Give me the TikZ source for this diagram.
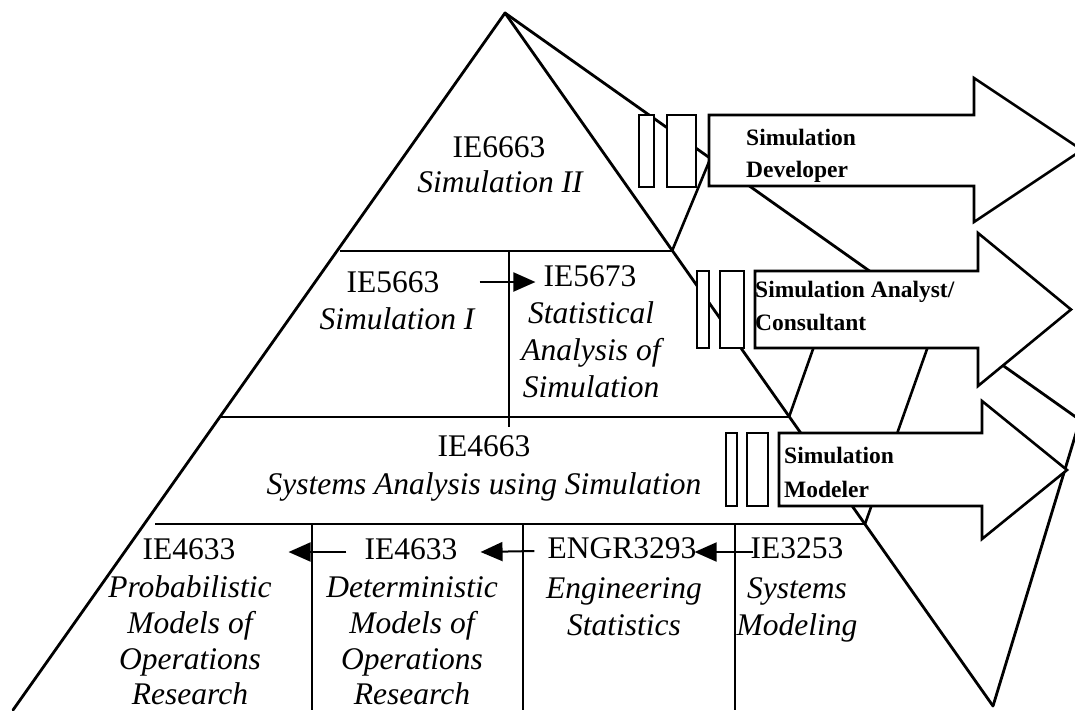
\documentclass[tikz,border=0pt]{standalone}
\usepackage{fontspec}
\setmainfont{Liberation Serif}
\usetikzlibrary{arrows.meta}
\begin{document}
\begin{tikzpicture}[x=1pt,y=-1pt,
  edge/.style={line width=2.8pt, line cap=round, line join=round},
  layer/.style={line width=2.2pt},
  sideline/.style={line width=2.6pt},
  divider/.style={line width=1.8pt},
  bar/.style={draw, fill=white, line width=2.4pt},
  bigarrow/.style={draw, fill=white, line width=2.6pt, line join=miter},
  code/.style={anchor=base, inner sep=0pt, font=\fontsize{31.5}{37}\selectfont},
  title/.style={anchor=base, inner sep=0pt, font=\fontsize{31.5}{37}\selectfont\itshape},
  role/.style={anchor=base west, inner sep=0pt, font=\fontsize{23.5}{33}\selectfont\bfseries},
  conn/.style={line width=2pt, -{Triangle[length=22pt,width=19pt]}},
]
\useasboundingbox (0,0) rectangle (1075,710);
\clip (0,0) rectangle (1075,710);
\fill[white] (0,0) rectangle (1075,710);

% pyramid
\coordinate (A) at (505,13);
\coordinate (L) at (13,710);
\coordinate (R) at (993,706);
\coordinate (B) at (1080,420);
\draw[edge] (L) -- (A) -- (R);
\draw[edge] (A) -- (B) -- (R);

% layer lines (front face)
\draw[layer] (340,251) -- (672,251);
\draw[layer] (221,417) -- (789,417);
\draw[layer] (155,524) -- (865,524);
% layer lines (side face)
\draw[sideline] (672,251) -- (711,157);
\draw[sideline] (789,417) -- (818,335);
\draw[sideline] (865,524) -- (932,335);

% dividers
\draw[divider] (509,251) -- (509,427);
\draw[divider] (312,524) -- (312,710);
\draw[divider] (523,524) -- (523,710);
\draw[divider] (735,524) -- (735,710);

% striped arrows
\draw[bar] (639,115) rectangle (654,187);
\draw[bar] (667,115) rectangle (696,187);
\draw[bigarrow] (709,115) -- (974,115) -- (974,78) -- (1082,150) -- (974,222) -- (974,186) -- (709,186) -- cycle;

\draw[bar] (697,271) rectangle (709,348);
\draw[bar] (720,271) rectangle (744,348);
\draw[bigarrow] (755,271) -- (978,271) -- (978,233) -- (1071,309.5) -- (978,386) -- (978,348) -- (755,348) -- cycle;

\draw[bar] (726,433) rectangle (737,506);
\draw[bar] (747,433) rectangle (768,506);
\draw[bigarrow] (779,433) -- (982,433) -- (982,401) -- (1067,470) -- (982,539) -- (982,506) -- (779,506) -- cycle;

% role labels
\node[role] (rdev1) at (746,145) {Simulation};
\node[role] (rdev2) at (746,177) {Developer};
\node[role] (rana1) at (755,297) {Simulation Analyst/};
\node[role] (rana2) at (755,330) {Consultant};
\node[role] (rmod1) at (784,463) {Simulation};
\node[role] (rmod2) at (784,497) {Modeler};

% courses
\node[code] (c6663) at (499,157) {IE6663};
\node[title] (t6663) at (500,192) {Simulation II};

\node[code] (c5663) at (393,292) {IE5663};
\node[title] (t5663) at (397,329) {Simulation I};

\node[code] (c5673) at (590,286) {IE5673};
\node[title] (t5673a) at (591,323) {Statistical};
\node[title] (t5673b) at (591,360) {Analysis of};
\node[title] (t5673c) at (591,397) {Simulation};

\node[code] (c4663) at (484,456) {IE4663};
\node[title] (t4663) at (484,494) {Systems Analysis using Simulation};

\node[code] (c4633p) at (189,559) {IE4633};
\node[title] (t4633pa) at (190,597) {Probabilistic};
\node[title] (t4633pb) at (190,633) {Models of};
\node[title] (t4633pc) at (190,669) {Operations};
\node[title] (t4633pd) at (190,704) {Research};

\node[code] (c4633d) at (411,559) {IE4633};
\node[title] (t4633da) at (412,597) {Deterministic};
\node[title] (t4633db) at (412,633) {Models of};
\node[title] (t4633dc) at (412,669) {Operations};
\node[title] (t4633dd) at (412,704) {Research};

\node[code] (c3293) at (622,558) {ENGR3293};
\node[title] (t3293a) at (624,598) {Engineering};
\node[title] (t3293b) at (624,635) {Statistics};

\node[code] (c3253) at (797,558) {IE3253};
\node[title] (t3253a) at (797,598) {Systems};
\node[title] (t3253b) at (797,635) {Modeling};

% prerequisite connectors
\draw[conn] ([xshift=40pt,yshift=10pt]c5663.base east) -- ([xshift=-8pt,yshift=4pt]c5673.base west);
\draw[conn] ([xshift=-18pt,yshift=7pt]c4633d.base west) -- ([xshift=53pt,yshift=7pt]c4633p.base east);
\draw[conn] ([xshift=-13pt,yshift=7pt]c3293.base west) -- ([xshift=23pt,yshift=7pt]c4633d.base east);
\draw[conn] ([xshift=3pt,yshift=6pt]c3253.base west) -- ([xshift=-2pt,yshift=6pt]c3293.base east);
\end{tikzpicture}
\end{document}
